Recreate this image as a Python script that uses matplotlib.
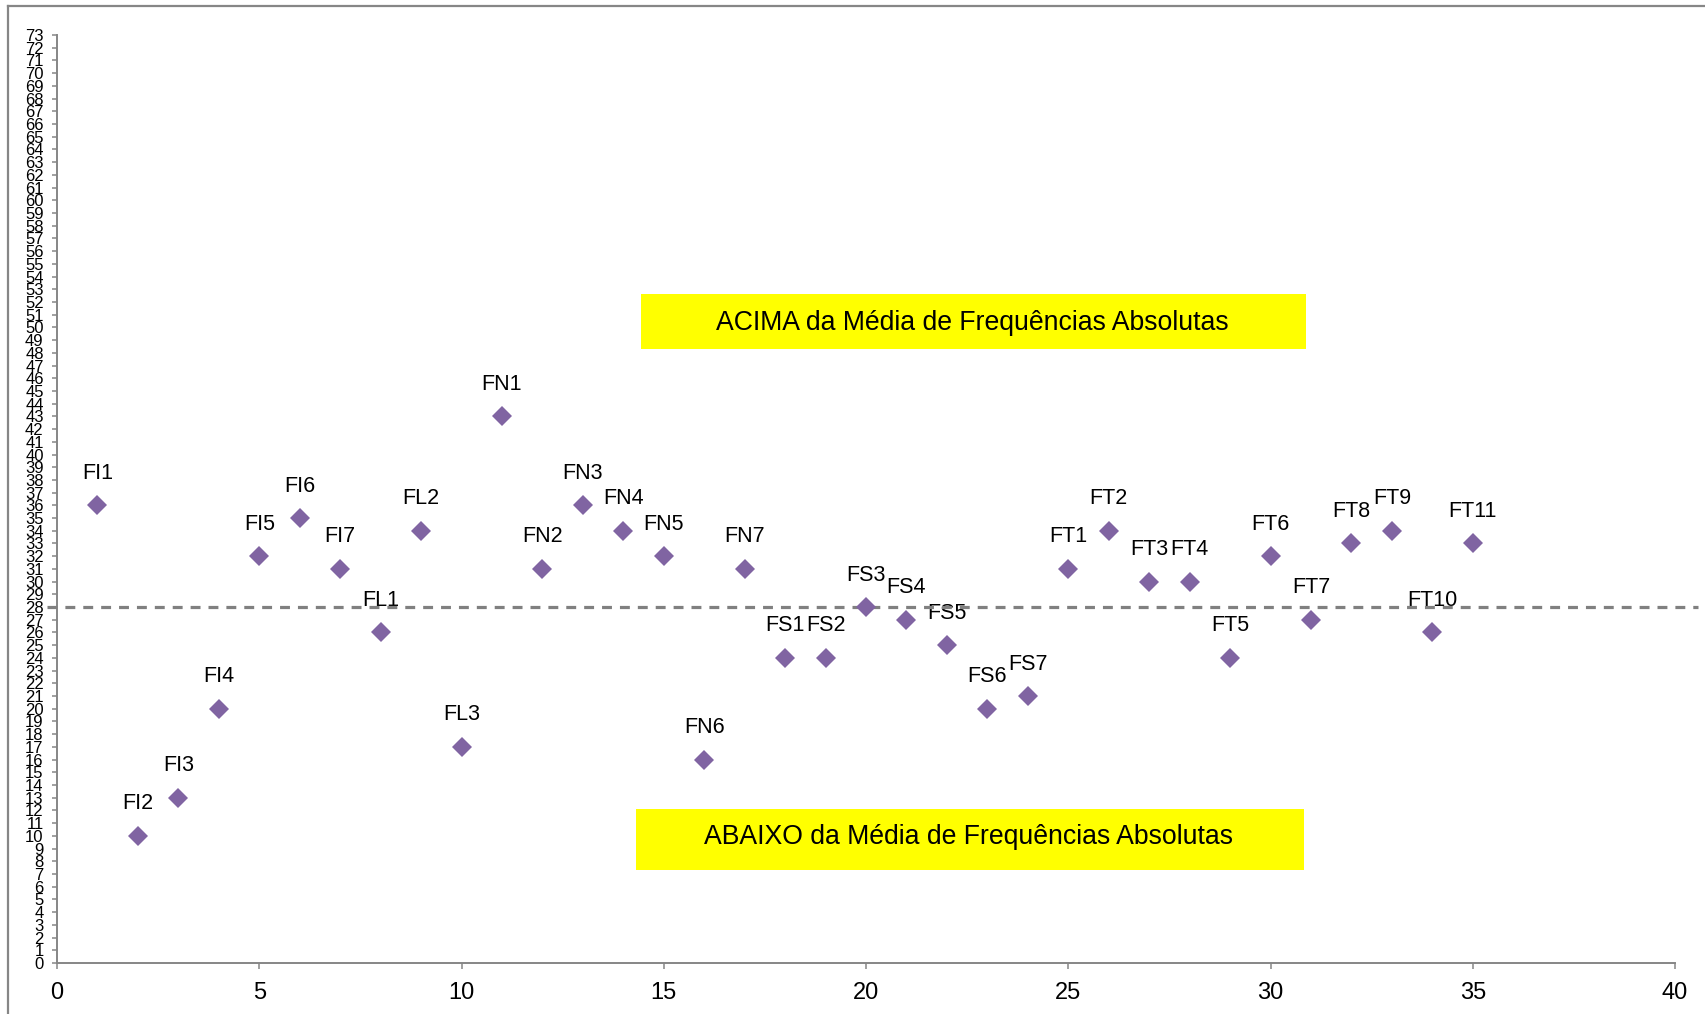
import numpy as np
import matplotlib.pyplot as plt
from matplotlib.patches import Rectangle
from matplotlib.lines import Line2D

plt.rcParams['font.family'] = ['Liberation Sans', 'DejaVu Sans']

# frequency codes and their absolute frequencies
labels = ['FI1', 'FI2', 'FI3', 'FI4', 'FI5', 'FI6', 'FI7',
          'FL1', 'FL2', 'FL3',
          'FN1', 'FN2', 'FN3', 'FN4', 'FN5', 'FN6', 'FN7',
          'FS1', 'FS2', 'FS3', 'FS4', 'FS5', 'FS6', 'FS7',
          'FT1', 'FT2', 'FT3', 'FT4', 'FT5', 'FT6', 'FT7', 'FT8', 'FT9', 'FT10', 'FT11']
freq = [36, 10, 13, 20, 32, 35, 31,
        26, 34, 17,
        43, 31, 36, 34, 32, 16, 31,
        24, 24, 28, 27, 25, 20, 21,
        31, 34, 30, 30, 24, 32, 27, 33, 34, 26, 33]
index = list(range(1, len(labels) + 1))
mean_freq = 28

text_above = 'ACIMA da Média de Frequências Absolutas'
text_below = 'ABAIXO da Média de Frequências Absolutas'

W, H = 1705, 1014
fig = plt.figure(figsize=(W / 100, H / 100), dpi=100)

def px(x0, y0, x1, y1):
    ''' pixel box (top-left origin) -> figure fraction rect '''
    return [x0 / W, 1 - y1 / H, (x1 - x0) / W, (y1 - y0) / H]

ax = fig.add_axes(px(57, 35, 1675, 963))

ax.plot(index, freq, linestyle='none', marker='D', markersize=10,
        color='#8064A2', markeredgewidth=0, zorder=6)

for x, y, name in zip(index, freq, labels):
    ax.annotate(name, (x, y), xytext=(0, 32), textcoords='offset pixels',
                ha='center', va='center', fontsize=15.5, zorder=3)

ax.axhline(mean_freq, xmin=-0.006, xmax=1.014, clip_on=False,
           color='#808080', linewidth=2.3, dashes=(3.1, 2.5), zorder=5)

ax.set_xlim(0, 40)
ax.set_ylim(0, 73)
ax.set_xticks(np.arange(0, 41, 5))
ax.set_yticks(np.arange(0, 74, 1))

for side in ['top', 'right']:
    ax.spines[side].set_visible(False)
for side in ['left', 'bottom']:
    ax.spines[side].set_color('#868686')
    ax.spines[side].set_linewidth(1.4)

ax.tick_params(axis='y', direction='out', length=3.6, width=1.1, color='#868686',
               labelsize=12, pad=6.0)
ax.tick_params(axis='x', direction='out', length=4.3, width=1.1, color='#868686',
               labelsize=17, pad=9.5)

# yellow annotation boxes
for (x0, y0, x1, y1), txt, dy in [((641, 294, 1306, 349), text_above, -2),
                                  ((636, 809, 1304, 870), text_below, 3)]:
    l, b, w, h = px(x0, y0, x1, y1)
    fig.patches.append(Rectangle((l, b), w, h, transform=fig.transFigure,
                                 facecolor='#FFFF00', edgecolor='none', zorder=2))
    fig.text(l + w / 2 - 1 / W, b + h / 2 + dy / H, txt, ha='center', va='center',
             fontsize=19.2, zorder=3)

# outer chart frame (top and left edges)
frame_kw = dict(transform=fig.transFigure, color='#868686', linewidth=1.6)
fig.add_artist(Line2D([8 / W, 1], [1 - 6 / H, 1 - 6 / H], **frame_kw))
fig.add_artist(Line2D([8 / W, 8 / W], [0, 1 - 6 / H], **frame_kw))

fig.savefig('out.png', dpi=100)
